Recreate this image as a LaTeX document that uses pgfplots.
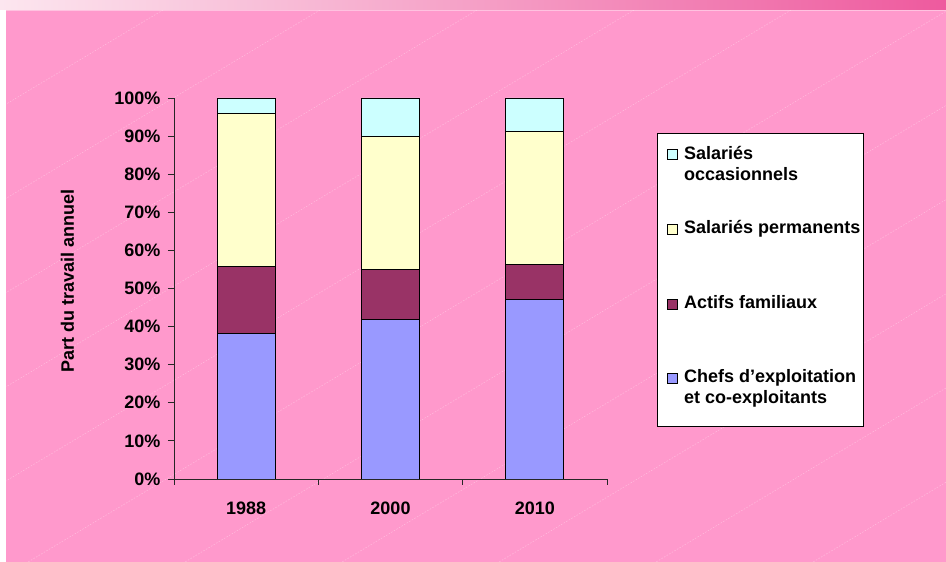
\documentclass[border=0pt]{standalone}
\usepackage{pgfplots}
\pgfplotsset{compat=1.18}
\usepackage{fontspec}
\setmainfont{Liberation Sans}
\definecolor{bgpink}{HTML}{FF99CC}
\definecolor{bandL}{HTML}{FCE6EF}
\definecolor{bandR}{HTML}{EE5A9E}
\definecolor{chefs}{HTML}{9999FF}
\definecolor{actifs}{HTML}{993366}
\definecolor{perm}{HTML}{FFFFCC}
\definecolor{occ}{HTML}{CCFFFF}
\newcommand{\chartfont}{\fontsize{18}{21}\selectfont\bfseries}
\begin{document}
\begin{tikzpicture}
\useasboundingbox (0pt,0pt) rectangle (946pt,562pt);
\fill[white] (0pt,0pt) rectangle (946pt,562pt);
\fill[bgpink] (6pt,0pt) rectangle (946pt,552pt);
\shade[left color=bandL, right color=bandR] (0pt,552pt) rectangle (946pt,562pt);
\draw[bgpink!60!white, line width=0.8pt] (6pt,551.6pt) -- (946pt,551.6pt);
\begin{scope}
\clip (6pt,0pt) rectangle (946pt,551pt);
\foreach \k in {0,...,11}{
  \draw[white, opacity=0.35, dash pattern=on 1.5pt off 1.5pt, line width=0.5pt]
    ({163pt+\k*157pt},552pt) -- ({163pt+\k*157pt-920pt},0pt);
}
\end{scope}
\begin{axis}[
  at={(174pt,83pt)}, anchor=south west,
  scale only axis, width=433pt, height=381pt,
  xmin=-0.5, xmax=2.5, ymin=0, ymax=100,
  axis x line=bottom, axis y line=left,
  axis line style={-, draw=black!85, line width=0.8pt},
  ybar stacked, bar width=58pt,
  xtick={-0.5,0.5,1.5,2.5}, xticklabels={},
  extra x ticks={0,1,2}, extra x tick labels={1988,2000,2010},
  extra x tick style={major tick length=0pt, xticklabel style={yshift=-19pt}},
  ytick={0,10,...,100},
  yticklabel={\pgfmathprintnumber{\tick}\%},
  tick align=outside, major tick length=6pt,
  tick style={draw=black!85, line width=0.8pt},
  ticklabel style={font=\chartfont},
  /pgf/number format/assume math mode=true,
  yticklabel style={xshift=-4pt},
  every axis plot/.append style={draw=black, line width=0.9pt},
]
\addplot[fill=chefs] coordinates {(0,38.3) (1,41.9) (2,47.2)};
\addplot[fill=actifs] coordinates {(0,17.4) (1,13.0) (2,9.2)};
\addplot[fill=perm] coordinates {(0,40.2) (1,35.0) (2,34.8)};
\addplot[fill=occ] coordinates {(0,4.1) (1,10.1) (2,8.8)};
\end{axis}
\node[rotate=90, font=\chartfont, inner sep=0pt] at (67.5pt,281pt) {Part du travail annuel};
% legend
\draw[black, fill=white, line width=0.9pt] (657pt,136pt) rectangle (863pt,429pt);
\draw[black, fill=occ, line width=0.7pt] (667pt,403pt) rectangle (677pt,413pt);
\draw[black, fill=perm, line width=0.7pt] (667pt,328pt) rectangle (677pt,338pt);
\draw[black, fill=actifs, line width=0.7pt] (667pt,253pt) rectangle (677pt,263pt);
\draw[black, fill=chefs, line width=0.7pt] (667pt,179pt) rectangle (677pt,189pt);
\node[anchor=base west, inner sep=0pt, font=\chartfont] at (684pt,402pt) {Salariés};
\node[anchor=base west, inner sep=0pt, font=\chartfont] at (684pt,381pt) {occasionnels};
\node[anchor=base west, inner sep=0pt, font=\chartfont] at (684pt,328pt) {Salariés permanents};
\node[anchor=base west, inner sep=0pt, font=\chartfont] at (684pt,253pt) {Actifs familiaux};
\node[anchor=base west, inner sep=0pt, font=\chartfont] at (684pt,179pt) {Chefs d’exploitation};
\node[anchor=base west, inner sep=0pt, font=\chartfont] at (684pt,158pt) {et co-exploitants};
\end{tikzpicture}
\end{document}
